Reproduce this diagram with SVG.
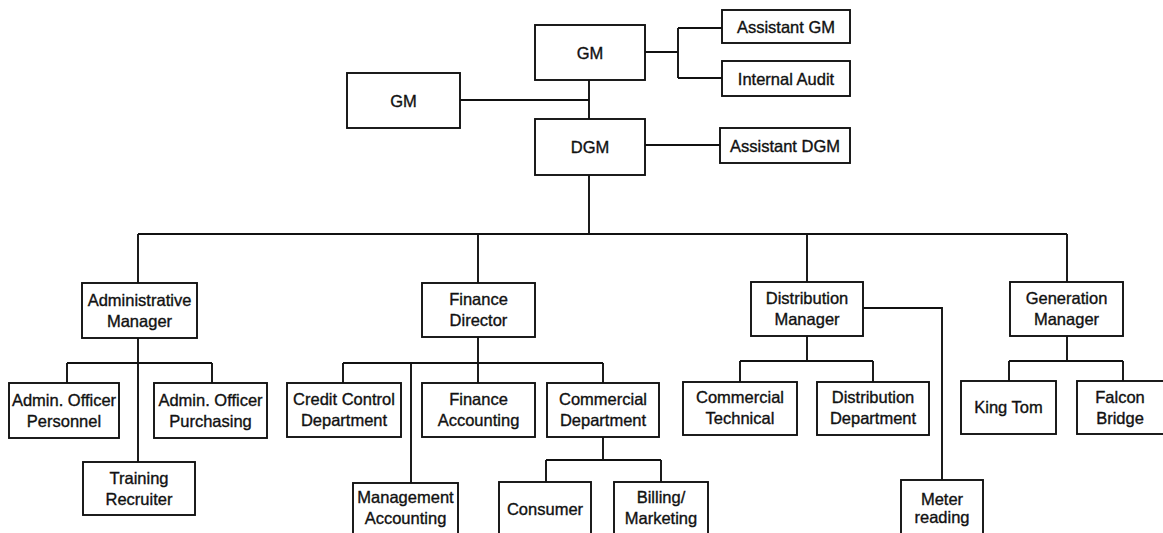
<svg xmlns="http://www.w3.org/2000/svg" width="1163" height="533" viewBox="0 0 1163 533">
<style>
.box{fill:#fff;stroke:#111;stroke-width:1.9}
.t{font-family:"Liberation Sans",Arial,Helvetica,sans-serif;font-size:16.5px;fill:#111;stroke:#111;stroke-width:0.35;text-anchor:middle}
.c{fill:none;stroke:#111;stroke-width:1.9}
</style>
<rect width="1163" height="533" fill="#fff"/>
<g id="connectors" class="c">
<path d="M645 52H678M678 28V78M678 28H722M678 78H722"/>
<path d="M460 100H589M589 80V119"/>
<path d="M645 145H720"/>
<path d="M589 175V234M138 234H1067M138 234V283M478 234V283M807 234V282M1067 234V282"/>
<path d="M138 338V462M67 363H212M67 363V383M212 363V383"/>
<path d="M478 337V363M343 363H603M343 363V383M478 363V383M603 363V383M411 363V483"/>
<path d="M603 437V460M546 460H661M546 460V482M661 460V482"/>
<path d="M863 308H942V480"/>
<path d="M807 336V361M740 361H873M740 361V382M873 361V382"/>
<path d="M1067 336V361M1009 361H1123M1009 361V381M1123 361V381"/>
</g>
<g id="gm-top"><rect class="box" x="535" y="25" width="110" height="55"/><text class="t" x="590" y="59">GM</text></g>
<g id="assistant-gm"><rect class="box" x="722" y="10" width="128" height="33"/><text class="t" x="786" y="33">Assistant GM</text></g>
<g id="internal-audit"><rect class="box" x="722" y="61" width="128" height="35"/><text class="t" x="786" y="85">Internal Audit</text></g>
<g id="gm-left"><rect class="box" x="347" y="73" width="113" height="55"/><text class="t" x="403.5" y="107">GM</text></g>
<g id="dgm"><rect class="box" x="535" y="119" width="110" height="56"/><text class="t" x="590" y="153">DGM</text></g>
<g id="assistant-dgm"><rect class="box" x="720" y="128" width="130" height="35"/><text class="t" x="785" y="152">Assistant DGM</text></g>
<g id="admin-manager"><rect class="box" x="82" y="283" width="115" height="55"/><text class="t" x="139.5" y="306">Administrative</text><text class="t" x="139.5" y="327">Manager</text></g>
<g id="admin-personnel"><rect class="box" x="9" y="383" width="110" height="55"/><text class="t" x="64" y="406">Admin. Officer</text><text class="t" x="64" y="427">Personnel</text></g>
<g id="admin-purchasing"><rect class="box" x="154" y="383" width="113" height="55"/><text class="t" x="210.5" y="406">Admin. Officer</text><text class="t" x="210.5" y="427">Purchasing</text></g>
<g id="training-recruiter"><rect class="box" x="83" y="462" width="112" height="53"/><text class="t" x="139" y="484">Training</text><text class="t" x="139" y="505">Recruiter</text></g>
<g id="finance-director"><rect class="box" x="422" y="283" width="113" height="54"/><text class="t" x="478.5" y="305">Finance</text><text class="t" x="478.5" y="326">Director</text></g>
<g id="credit-control"><rect class="box" x="287" y="383" width="114" height="54"/><text class="t" x="344" y="405">Credit Control</text><text class="t" x="344" y="426">Department</text></g>
<g id="finance-accounting"><rect class="box" x="422" y="383" width="113" height="54"/><text class="t" x="478.5" y="405">Finance</text><text class="t" x="478.5" y="426">Accounting</text></g>
<g id="commercial-department"><rect class="box" x="547" y="383" width="112" height="54"/><text class="t" x="603" y="405">Commercial</text><text class="t" x="603" y="426">Department</text></g>
<g id="management-accounting"><rect class="box" x="353" y="483" width="105" height="62"/><text class="t" x="405.5" y="503">Management</text><text class="t" x="405.5" y="524">Accounting</text></g>
<g id="consumer"><rect class="box" x="499" y="482" width="92" height="63"/><text class="t" x="545" y="515">Consumer</text></g>
<g id="billing-marketing"><rect class="box" x="614" y="482" width="94" height="63"/><text class="t" x="661" y="503">Billing/</text><text class="t" x="661" y="524">Marketing</text></g>
<g id="distribution-manager"><rect class="box" x="751" y="282" width="112" height="54"/><text class="t" x="807" y="304">Distribution</text><text class="t" x="807" y="325">Manager</text></g>
<g id="commercial-technical"><rect class="box" x="683" y="382" width="114" height="53"/><text class="t" x="740" y="403">Commercial</text><text class="t" x="740" y="424">Technical</text></g>
<g id="distribution-department"><rect class="box" x="817" y="382" width="112" height="53"/><text class="t" x="873" y="403">Distribution</text><text class="t" x="873" y="424">Department</text></g>
<g id="meter-reading"><rect class="box" x="901" y="480" width="82" height="65"/><text class="t" x="942" y="505">Meter</text><text class="t" x="942" y="523">reading</text></g>
<g id="generation-manager"><rect class="box" x="1010" y="282" width="113" height="54"/><text class="t" x="1066.5" y="304">Generation</text><text class="t" x="1066.5" y="325">Manager</text></g>
<g id="king-tom"><rect class="box" x="961" y="381" width="95" height="53"/><text class="t" x="1008.5" y="413">King Tom</text></g>
<g id="falcon-bridge"><rect class="box" x="1077" y="381" width="90" height="53"/><text class="t" x="1120" y="403">Falcon</text><text class="t" x="1120" y="424">Bridge</text></g>
</svg>
